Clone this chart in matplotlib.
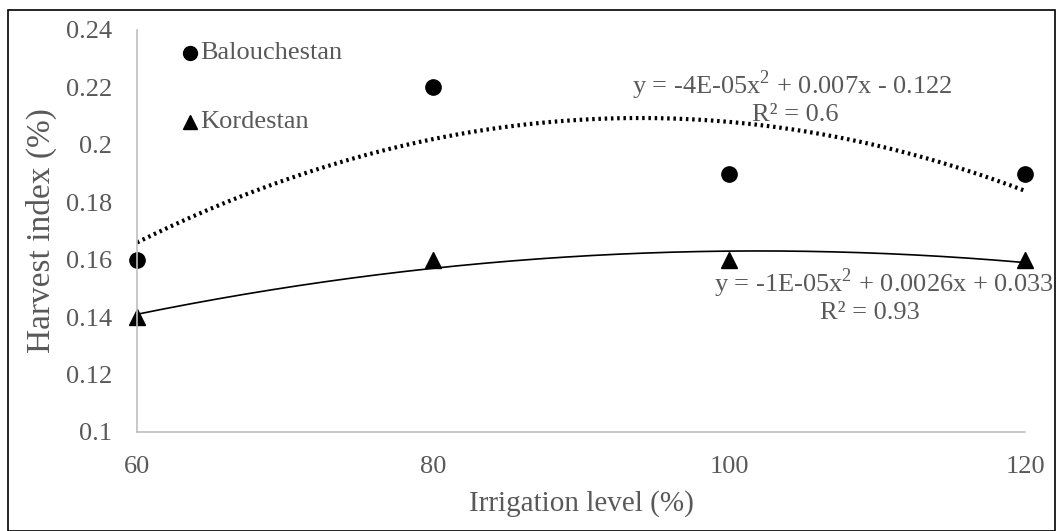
import numpy as np
import matplotlib
matplotlib.use("Agg")
import matplotlib.pyplot as plt
from matplotlib.patches import Rectangle

irrigation = [60, 80, 100, 120]
balouchestan = [0.16, 0.22, 0.19, 0.19]
kordestan = [0.14, 0.16, 0.16, 0.16]
y_ticks = [0.1, 0.12, 0.14, 0.16, 0.18, 0.2, 0.22, 0.24]
y_tick_labels = ["0.1", "0.12", "0.14", "0.16", "0.18", "0.2", "0.22", "0.24"]
x_ticks = [60, 80, 100, 120]
eq_bal = ["y = -4E-05x$^2$ + 0.007x - 0.122", "R² = 0.6"]
eq_kor = ["y = -1E-05x$^2$ + 0.0026x + 0.033", "R² = 0.93"]

plt.rcParams['font.family'] = ['Liberation Serif', 'DejaVu Serif']
plt.rcParams['mathtext.fontset'] = 'custom'
plt.rcParams['mathtext.rm'] = 'Liberation Serif'
tc = '#595959'

fig = plt.figure(figsize=(10.62, 5.31), dpi=100)
fig.patches.append(Rectangle((8/1062, 0), 1047/1062, 521/531, transform=fig.transFigure,
                             fill=False, edgecolor='black', linewidth=1.2))
ax = fig.add_axes([137/1062, 99/531, 888/1062, 402/531])

xs = np.linspace(60, 120, 200)
pb = np.polyfit(irrigation, balouchestan, 2)
pk = np.polyfit(irrigation, kordestan, 2)
ax.plot(xs, np.polyval(pb, xs), color='black', linestyle=(0, (0.6, 0.9)), linewidth=3)
ax.plot(xs, np.polyval(pk, xs), color='black', linewidth=1.2)
ax.plot(irrigation, balouchestan, 'o', color='black', markersize=11, clip_on=False)
ax.plot(irrigation, kordestan, '^', color='black', markersize=11, clip_on=False)

ax.set_xlim(60, 120)
ax.set_ylim(0.1, 0.24)
ax.set_xticks(x_ticks)
ax.set_yticks(y_ticks)
ax.set_yticklabels(y_tick_labels)
ax.tick_params(length=0, labelsize=19, labelcolor=tc)
ax.tick_params(axis='x', pad=17)
ax.tick_params(axis='y', pad=18)
for s in ['top', 'right']:
    ax.spines[s].set_visible(False)
for s in ['left', 'bottom']:
    ax.spines[s].set_color('#bfbfbf')
    ax.spines[s].set_linewidth(1.2)

ax.set_xlabel("Irrigation level (%)", fontsize=21, color=tc, labelpad=9)
ax.set_ylabel("Harvest index (%)", fontsize=24, color=tc, labelpad=6)

# legend
ax.plot([63.6], [0.2320], 'o', color='black', markersize=10, clip_on=False)
ax.text(64.3, 0.2320, "Balouchestan", fontsize=19, color=tc, va='center', ha='left')
ax.plot([63.6], [0.2080], '^', color='black', markersize=10, clip_on=False)
ax.text(64.3, 0.2080, "Kordestan", fontsize=19, color=tc, va='center', ha='left')

ax.text(104.3, 0.2208, eq_bal[0], fontsize=19, color=tc, ha='center', va='center')
ax.text(104.5, 0.2105, eq_bal[1], fontsize=19, color=tc, ha='center', va='center')
ax.text(110.5, 0.1519, eq_kor[0], fontsize=19, color=tc, ha='center', va='center')
ax.text(109.5, 0.1415, eq_kor[1], fontsize=19, color=tc, ha='center', va='center')

fig.savefig("out.png", dpi=100)
